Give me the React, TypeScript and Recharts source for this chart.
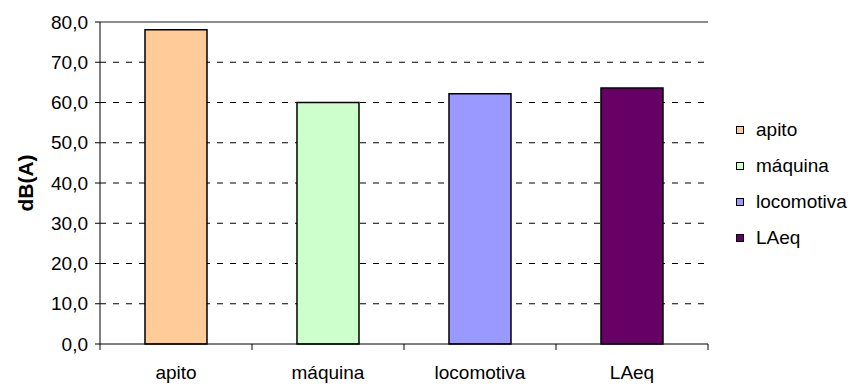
import { Bar, BarChart, CartesianGrid, Cell, Legend, ReferenceLine, XAxis, YAxis } from "recharts";

const SOURCES = ["apito", "máquina", "locomotiva", "LAeq"];
const LEVELS = [78.1, 60.0, 62.2, 63.6];
const FILLS = ["#FFCC99", "#CCFFCC", "#9999FF", "#660066"];
const Y_TICKS = [0, 10, 20, 30, 40, 50, 60, 70, 80];
const GRID_VALUES = [10, 20, 30, 40, 50, 60, 70];

const rows = SOURCES.map((name, i) => ({ name, level: LEVELS[i] }));

const FONT = '"Liberation Sans", Arial, sans-serif';
const INK = "#000";
const FRAME = "#8c8c8c";

const fmt = (v: number) => v.toFixed(1).replace(".", ",");

// category label centred in its band, tick marks on the band edges
function CategoryTick(props: any) {
  const { x, y, payload, index } = props;
  const half = payload?.offset ?? 76;
  return (
    <g>
      <line x1={x - half} x2={x - half} y1={y} y2={y + 6} stroke={INK} />
      {index === SOURCES.length - 1 ? (
        <line x1={x + half} x2={x + half} y1={y} y2={y + 6} stroke={INK} />
      ) : null}
      <text x={x} y={y + 35} textAnchor="middle" fontSize={19} fill={INK} fontFamily={FONT}>
        {payload.value}
      </text>
    </g>
  );
}

function AxisTitle(props: any) {
  const vb = props.viewBox;
  const x = vb.x + 33;
  const y = vb.y + vb.height / 2;
  return (
    <text
      x={x}
      y={y}
      transform={`rotate(-90, ${x}, ${y})`}
      textAnchor="middle"
      fontSize={21}
      fontWeight="bold"
      fill={INK}
      fontFamily={FONT}
    >
      dB(A)
    </text>
  );
}

function SourceLegend() {
  return (
    <div style={{ fontFamily: FONT, fontSize: 19, color: INK }}>
      {SOURCES.map((s, i) => (
        <div key={s} style={{ display: "flex", alignItems: "center", height: 36 }}>
          <span
            style={{
              display: "inline-block",
              width: 8,
              height: 8,
              boxSizing: "border-box",
              border: `1px solid ${INK}`,
              background: FILLS[i],
              marginRight: 12,
            }}
          />
          {s}
        </div>
      ))}
    </div>
  );
}

export default function App() {
  return (
    <div style={{ position: "absolute", left: 0, top: 0, width: 852, height: 384, background: "#fff" }}>
      <BarChart
        width={852}
        height={384}
        data={rows}
        margin={{ top: 22, right: 144, bottom: 0, left: 0 }}
        barCategoryGap="29.6%"
        style={{ fontFamily: FONT }}
      >
        <CartesianGrid
          yAxisId="left"
          vertical={false}
          horizontalValues={GRID_VALUES}
          stroke={INK}
          strokeDasharray="6 7"
        />
        <XAxis
          dataKey="name"
          height={40}
          tickLine={false}
          tickSize={0}
          tickMargin={0}
          axisLine={{ stroke: INK }}
          tick={<CategoryTick />}
          interval={0}
        />
        <YAxis
          yAxisId="left"
          width={100}
          domain={[0, 80]}
          ticks={Y_TICKS}
          tickFormatter={fmt}
          tickSize={5}
          tickMargin={7}
          axisLine={{ stroke: INK }}
          tickLine={{ stroke: INK }}
          tick={{ fill: INK, fontSize: 19 }}
          label={{ content: <AxisTitle /> }}
        />
        <YAxis
          yAxisId="right"
          orientation="right"
          width={0}
          domain={[0, 80]}
          tick={false}
          tickLine={false}
          axisLine={{ stroke: FRAME, strokeWidth: 2 }}
        />
        <ReferenceLine yAxisId="left" y={80} stroke={FRAME} strokeWidth={2} />
        <Bar yAxisId="left" dataKey="level" stroke={INK} strokeWidth={1.5} isAnimationActive={false}>
          {rows.map((r, i) => (
            <Cell key={r.name} fill={FILLS[i]} />
          ))}
        </Bar>
        <Legend
          layout="vertical"
          align="center"
          verticalAlign="middle"
          content={<SourceLegend />}
          wrapperStyle={{ left: 736, top: 112, width: "auto", bottom: "auto" }}
        />
      </BarChart>
    </div>
  );
}
